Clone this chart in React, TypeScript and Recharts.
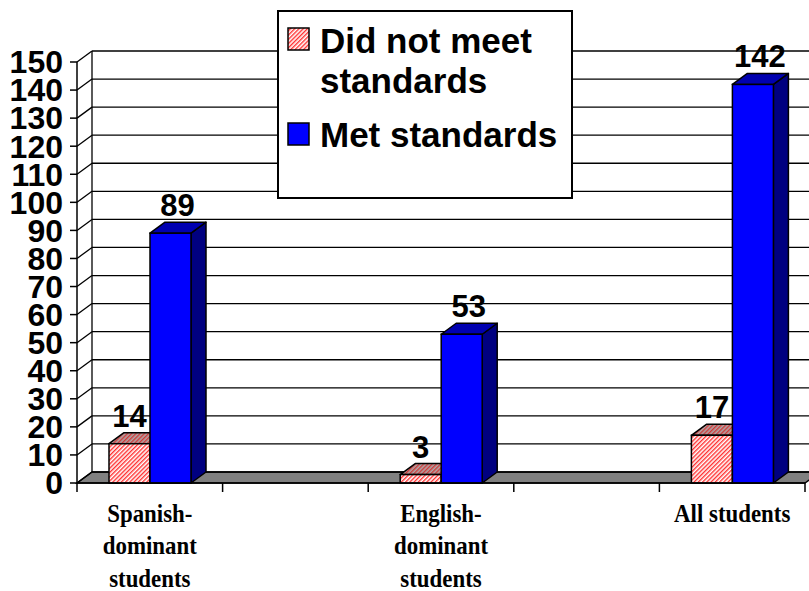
import React from 'react';
import { BarChart, Bar, XAxis, YAxis, CartesianGrid, LabelList, Legend } from 'recharts';

const categories = ['Spanish-dominant students', 'gap-1', 'English-dominant students', 'gap-2', 'All students'];
const categoryLabelLines: string[][] = [
  ['Spanish-', 'dominant', 'students'],
  [],
  ['English-', 'dominant', 'students'],
  [],
  ['All students'],
];
const didNotMeet: (number | null)[] = [14, null, 3, null, 17];
const metStandards: (number | null)[] = [89, null, 53, null, 142];
const yTicks = [0, 10, 20, 30, 40, 50, 60, 70, 80, 90, 100, 110, 120, 130, 140, 150];
const seriesNames = ['Did not meet standards', 'Met standards'];

const data = categories.map((c, i) => ({ category: c, notMet: didNotMeet[i], met: metStandards[i] }));

const DX = 15;
const DY = 11;
const SANS = "Arial, 'Liberation Sans', sans-serif";
const SERIF = "'Times New Roman', 'Liberation Serif', serif";

const makeShape = (front: string, top: string, side: string, key: string) => (props: any) => {
  const { x, y, width, height, payload } = props;
  if (!payload || payload[key] == null) return null;
  const x2 = x + width;
  const y2 = y + height;
  return (
    <g>
      <polygon
        points={`${x2},${y} ${x2 + DX},${y - DY} ${x2 + DX},${y2 - DY} ${x2},${y2}`}
        fill={side}
        stroke="#000"
        strokeWidth={1.5}
        strokeLinejoin="round"
      />
      <polygon
        points={`${x},${y} ${x + DX},${y - DY} ${x2 + DX},${y - DY} ${x2},${y}`}
        fill={top}
        stroke="#000"
        strokeWidth={1.5}
        strokeLinejoin="round"
      />
      <rect x={x} y={y} width={width} height={height} fill={front} stroke="#000" strokeWidth={1.5} />
    </g>
  );
};

const pinkShape = makeShape('url(#hatchFront)', 'url(#hatchTop)', 'url(#hatchTop)', 'notMet');
const blueShape = makeShape('#0000ff', '#0000b0', '#000080', 'met');

const makeLabel = (shift: number) => (props: any) => {
  const { value } = props;
  if (value == null) return null;
  const vb = props.viewBox || {};
  const x = props.x ?? vb.x;
  const y = props.y ?? vb.y;
  const width = props.width ?? vb.width;
  return (
    <text
      x={x + width / 2 + shift}
      y={y - DY - 6}
      textAnchor="middle"
      fontFamily={SANS}
      fontWeight="bold"
      fontSize={31}
      fill="#000"
    >
      {value}
    </text>
  );
};

const gridLine = (props: any) => {
  const { x1, x2, y1, index, horizontalPoints, y, height } = props;
  const pts: number[] = Array.isArray(horizontalPoints) && horizontalPoints.length ? horizontalPoints : [y, y + height];
  const top = Math.min(...pts);
  const bottom = Math.max(...pts);
  const isBottom = Math.abs(y1 - bottom) < 0.5;
  const n = categories.length;
  const step = (x2 - x1) / n;
  return (
    <g key={`gl-${index}`}>
      {isBottom && (
        <g>
          <polygon
            points={`${x1},${bottom} ${x2},${bottom} ${x2 + DX},${bottom - DY} ${x1 + DX},${bottom - DY}`}
            fill="#808080"
            stroke="#000"
            strokeWidth={1.5}
          />
          <line x1={x1 + DX} y1={top - DY} x2={x1 + DX} y2={bottom - DY} stroke="#000" strokeWidth={1.3} />
          {Array.from({ length: n + 1 }, (_, i) => (
            <line
              key={`xt-${i}`}
              x1={x1 + i * step}
              y1={bottom}
              x2={x1 + i * step}
              y2={bottom + 9}
              stroke="#000"
              strokeWidth={1.5}
            />
          ))}
        </g>
      )}
      <line x1={x1} y1={y1} x2={x1 + DX} y2={y1 - DY} stroke="#000" strokeWidth={1.3} />
      <line x1={x1 + DX} y1={y1 - DY} x2={x2 + DX} y2={y1 - DY} stroke="#000" strokeWidth={1.3} />
    </g>
  );
};

const XTick = (props: any) => {
  const { x, y, payload } = props;
  const idx = payload && typeof payload.index === 'number' ? payload.index : categories.indexOf(payload?.value);
  const lines = categoryLabelLines[idx] || [];
  return (
    <g transform={`translate(${x},${y}) scale(0.88,1)`}>
      {lines.map((ln, i) => (
        <text
          key={i}
          x={0}
          y={38.7 + i * 32.5}
          textAnchor="middle"
          fontFamily={SERIF}
          fontWeight="bold"
          fontSize={26}
          fill="#000"
        >
          {ln}
        </text>
      ))}
    </g>
  );
};

const renderLegend = (props: any) => {
  const payload = props.payload || [];
  const squares = [
    { top: 16, fill: 'url(#hatchFront)' },
    { top: 111, fill: '#0000ff' },
  ];
  const textTops = [9.2, 102.6];
  return (
    <div
      style={{
        position: 'relative',
        width: 296,
        height: 189,
        border: '2px solid #000',
        boxSizing: 'border-box',
        background: '#fff',
      }}
    >
      {payload.map((entry: any, i: number) => (
        <React.Fragment key={i}>
          <svg width={23} height={24} style={{ position: 'absolute', left: 8, top: squares[i].top - 1 }}>
            <rect x={1} y={1} width={21} height={22} fill={i === 0 ? 'url(#hatchFront)' : entry.color || '#0000ff'} stroke="#000" strokeWidth={1.5} />
          </svg>
          <div
            style={{
              position: 'absolute',
              left: 41,
              top: textTops[i],
              width: 245,
              fontFamily: SANS,
              fontWeight: 'bold',
              fontSize: 35,
              lineHeight: '40px',
              color: '#000',
              whiteSpace: 'normal',
            }}
          >
            {entry.value}
          </div>
        </React.Fragment>
      ))}
    </div>
  );
};

export default function App() {
  return (
    <div style={{ position: 'absolute', left: 0, top: 0, width: 809, height: 591, background: '#fff' }}>
      <svg width={0} height={0} style={{ position: 'absolute' }}>
        <defs>
          <pattern id="hatchFront" width="3" height="3" patternUnits="userSpaceOnUse" patternTransform="rotate(45)">
            <rect width="3" height="3" fill="#ffffff" />
            <rect width="1.4" height="3" fill="#ff3030" />
          </pattern>
          <pattern id="hatchTop" width="3" height="3" patternUnits="userSpaceOnUse" patternTransform="rotate(45)">
            <rect width="3" height="3" fill="#b0a8a8" />
            <rect width="1.4" height="3" fill="#d03838" />
          </pattern>
        </defs>
      </svg>
      <BarChart
        width={809}
        height={591}
        data={data}
        margin={{ top: 62, right: 4, bottom: 0, left: 0 }}
        barGap={0}
        barSize={41}
      >
        <CartesianGrid horizontal={gridLine} vertical={false} stroke="#000" />
        <XAxis
          dataKey="category"
          height={108}
          tickLine={false}
          tickSize={0}
          tickMargin={0}
          axisLine={{ stroke: '#000', strokeWidth: 1.5 }}
          interval={0}
          tick={<XTick />}
        />
        <YAxis
          width={77}
          domain={[0, 150]}
          ticks={yTicks}
          interval={0}
          tickSize={7}
          tickMargin={7}
          axisLine={{ stroke: '#000', strokeWidth: 1.5 }}
          tickLine={{ stroke: '#000', strokeWidth: 1.5 }}
          tick={{ fontFamily: SANS, fontWeight: 'bold', fontSize: 32, fill: '#000' }}
        />
        <Legend
          layout="vertical"
          align="center"
          verticalAlign="middle"
          content={renderLegend}
          wrapperStyle={{ left: 277, top: 10, width: 296, height: 189 }}
        />
        <Bar dataKey="notMet" name={seriesNames[0]} fill="#ff8080" shape={pinkShape} isAnimationActive={false}>
          <LabelList dataKey="notMet" content={makeLabel(0)} />
        </Bar>
        <Bar dataKey="met" name={seriesNames[1]} fill="#0000ff" shape={blueShape} isAnimationActive={false}>
          <LabelList dataKey="met" content={makeLabel(7)} />
        </Bar>
      </BarChart>
    </div>
  );
}
